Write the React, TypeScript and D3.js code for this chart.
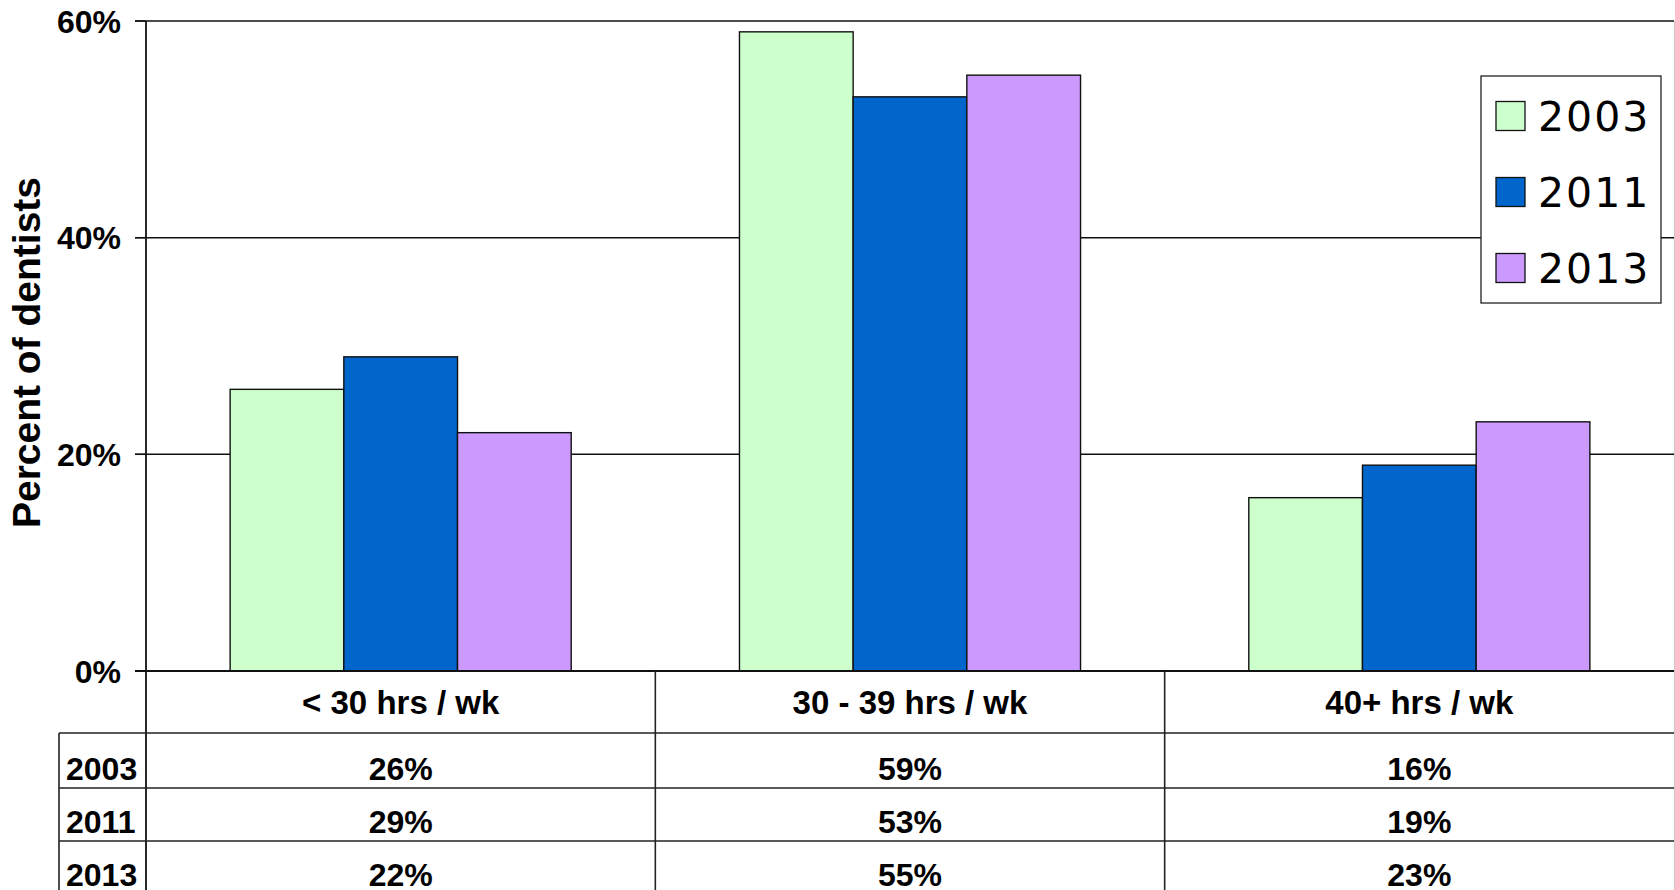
import React from "react";
import * as d3 from "d3";

const categories = ["< 30 hrs / wk", "30 - 39 hrs / wk", "40+ hrs / wk"];
const seriesNames = ["2003", "2011", "2013"];
const values2003 = [26, 59, 16];
const values2011 = [29, 53, 19];
const values2013 = [22, 55, 23];
const seriesColors = ["#CCFFCC", "#0066CC", "#CC99FF"];
const yTicks = [0, 20, 40, 60];

const seriesValues = [values2003, values2011, values2013];

const W = 1675;
const H = 890;
const plotLeft = 146;
const plotRight = 1674;
const plotTop = 21;
const plotBottom = 671;
const rowLines = [733, 788, 841, 894];
const tableLeft = 59;

export default function App() {
  const x0 = d3.scaleBand<string>().domain(categories).range([plotLeft, plotRight]).paddingInner(0).paddingOuter(0);
  const x1 = d3
    .scaleBand<string>()
    .domain(seriesNames)
    .range([0, x0.bandwidth()])
    .paddingInner(0)
    .paddingOuter(0.74);
  const y = d3.scaleLinear().domain([0, 60]).range([plotBottom, plotTop]);

  const arial = "'Liberation Sans', Arial, sans-serif";

  return (
    <svg
      width={W}
      height={H}
      style={{ position: "absolute", left: 0, top: 0, background: "#fff" }}
      fontFamily={arial}
    >
      <rect x={0} y={0} width={W} height={H} fill="#fff" />
      {/* right light border */}
      <line x1={plotRight + 0.5} x2={plotRight + 0.5} y1={plotTop} y2={H} stroke="#c8c8c8" strokeWidth={1.2} />
      {/* gridlines */}
      {yTicks.filter((t) => t > 0).map((t) => (
        <line key={"g" + t} x1={135} x2={plotRight} y1={y(t)} y2={y(t)} stroke="#111" strokeWidth={t === 60 ? 1.7 : 1.5} />
      ))}
      {/* bars */}
      {categories.map((c, ci) => (
        <g key={c} transform={`translate(${x0(c)},0)`}>
          {seriesNames.map((s, si) => {
            const v = seriesValues[si][ci];
            return (
              <rect
                key={s}
                x={x1(s)}
                y={y(v)}
                width={x1.bandwidth()}
                height={y(0) - y(v)}
                fill={seriesColors[si]}
                stroke="#111"
                strokeWidth={1.4}
              />
            );
          })}
        </g>
      ))}
      {/* y axis */}
      <line x1={plotLeft} x2={plotLeft} y1={plotTop} y2={H} stroke="#111" strokeWidth={1.8} />
      <line x1={135} x2={plotRight} y1={plotBottom} y2={plotBottom} stroke="#111" strokeWidth={2} />
      {yTicks.map((t) => (
        <g key={"t" + t}>
          <line x1={135} x2={plotLeft} y1={y(t)} y2={y(t)} stroke="#111" strokeWidth={1.4} />
          <text x={121} y={y(t) + 11.5} textAnchor="end" fontSize={32} fontWeight="bold" fill="#000">
            {t + "%"}
          </text>
        </g>
      ))}
      {/* y title */}
      <text
        transform={`translate(40, 352.5) rotate(-90)`}
        textAnchor="middle"
        fontSize={39}
        fontWeight="bold"
        fill="#000"
      >
        Percent of dentists
      </text>
      {/* table lines */}
      <line x1={plotLeft} x2={plotRight} y1={rowLines[0]} y2={rowLines[0]} stroke="#222" strokeWidth={1.6} />
      <line x1={tableLeft} x2={plotLeft} y1={rowLines[0]} y2={rowLines[0]} stroke="#222" strokeWidth={1.6} />
      <line x1={tableLeft} x2={plotRight} y1={rowLines[1]} y2={rowLines[1]} stroke="#222" strokeWidth={1.6} />
      <line x1={tableLeft} x2={plotRight} y1={rowLines[2]} y2={rowLines[2]} stroke="#222" strokeWidth={1.6} />
      <line x1={tableLeft} x2={tableLeft} y1={rowLines[0]} y2={H} stroke="#222" strokeWidth={1.6} />
      {categories.slice(1).map((c) => (
        <line key={"sep" + c} x1={x0(c)} x2={x0(c)} y1={plotBottom} y2={H} stroke="#222" strokeWidth={1.6} />
      ))}
      {/* header labels */}
      {categories.map((c) => (
        <text
          key={"h" + c}
          x={(x0(c) as number) + x0.bandwidth() / 2}
          y={713.5}
          textAnchor="middle"
          fontSize={33}
          fontWeight="bold"
          fill="#000"
        >
          {c}
        </text>
      ))}
      {/* data rows */}
      {seriesNames.map((s, si) => (
        <g key={"row" + s}>
          <text x={66} y={rowLines[si + 1] - 8} fontSize={32} fontWeight="bold" fill="#000">
            {s}
          </text>
          {categories.map((c, ci) => (
            <text
              key={"v" + c}
              x={(x0(c) as number) + x0.bandwidth() / 2}
              y={rowLines[si + 1] - 8}
              textAnchor="middle"
              fontSize={32}
              fontWeight="bold"
              fill="#000"
            >
              {seriesValues[si][ci] + "%"}
            </text>
          ))}
        </g>
      ))}
      {/* legend */}
      <g>
        <rect x={1481} y={76} width={180} height={227} fill="#fff" stroke="#222" strokeWidth={1.3} />
        {seriesNames.map((s, si) => (
          <g key={"lg" + s} transform={`translate(0, ${116 + si * 76})`}>
            <rect x={1496} y={-14.5} width={29} height={29} fill={seriesColors[si]} stroke="#111" strokeWidth={1.3} />
            <text
              x={1538}
              y={14.8}
              fontFamily="'DejaVu Sans', Verdana, sans-serif"
              fontSize={41}
              letterSpacing={2}
              fill="#000"
            >
              {s}
            </text>
          </g>
        ))}
      </g>
    </svg>
  );
}
